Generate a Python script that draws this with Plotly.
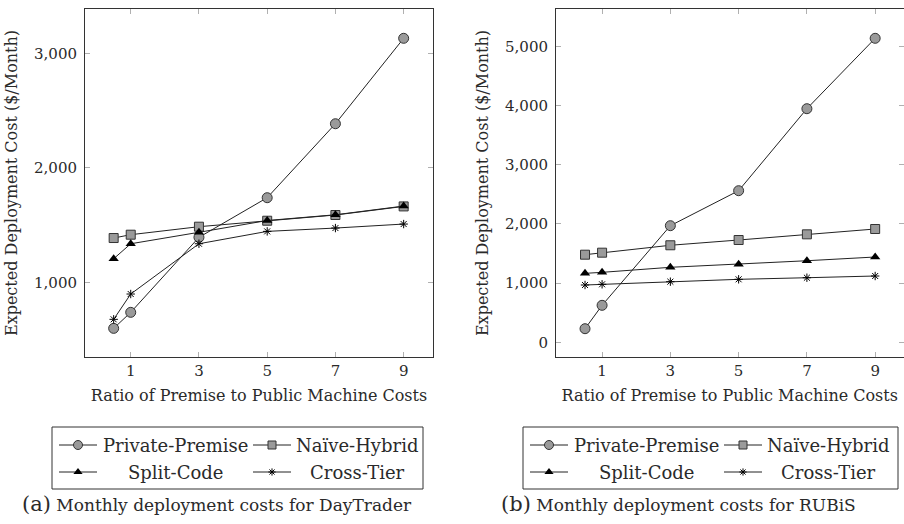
import plotly.graph_objects as go

ratios = [0.5, 1, 3, 5, 7, 9]

# (a) DayTrader
dt_private = [598, 738, 1393, 1739, 2385, 3131]
dt_naive = [1387, 1416, 1486, 1538, 1588, 1663]
dt_split = [1206, 1337, 1437, 1540, 1590, 1666]
dt_cross = [677, 898, 1337, 1445, 1474, 1509]

# (b) RUBiS
rb_private = [230, 625, 1970, 2561, 3946, 5135]
rb_naive = [1480, 1514, 1639, 1728, 1824, 1914]
rb_split = [1165, 1182, 1267, 1318, 1378, 1441]
rb_cross = [968, 980, 1024, 1064, 1091, 1120]

series_names = ["Private-Premise", "Naïve-Hybrid", "Split-Code", "Cross-Tier"]
x_ticks = [1, 3, 5, 7, 9]
dt_yticks = [1000, 2000, 3000]
rb_yticks = [0, 1000, 2000, 3000, 4000, 5000]
caption_tags = ["(a)", "(b)"]
caption_texts = ["Monthly deployment costs for DayTrader",
                 "Monthly deployment costs for RUBiS"]
x_title = "Ratio of Premise to Public Machine Costs"
y_title = "Expected Deployment Cost ($/Month)"

W, H = 904, 524
FONT = "DejaVu Serif"
TXT = "#2a2a2a"
GRAY = "#9a9a9a"
styles = [
    dict(symbol="circle", size=10, color=GRAY, line=dict(color="#333333", width=1)),
    dict(symbol="square", size=9, color=GRAY, line=dict(color="#333333", width=1)),
    dict(symbol="triangle-up", size=9, color="black", line=dict(color="black", width=0)),
    dict(symbol="asterisk-open", size=7, color="black", line=dict(color="black", width=1)),
]
LINE = dict(color="#222222", width=1)

fig = go.Figure()


def add_series(data, xa, ya):
    for name, vals, st in zip(series_names, data, styles):
        fig.add_trace(go.Scatter(
            x=ratios, y=vals, name=name, mode="lines+markers",
            xaxis=xa, yaxis=ya, showlegend=False,
            line=LINE, marker=st,
        ))


add_series([dt_private, dt_naive, dt_split, dt_cross], "x", "y")
add_series([rb_private, rb_naive, rb_split, rb_cross], "x2", "y2")

# ---- hand-made legends (pixel overlay axis) ----
shapes = []
annotations = []
legend_boxes = [(52, 423), (523, 898)]
box_top, box_bot = 427, 489
row_y = [445, 472]
# offsets from box left: (sample centre, text centre) per column
col_off = [(26, 123), (220, 305)]
for (bx0, bx1) in legend_boxes:
    shapes.append(dict(type="rect", xref="paper", yref="paper",
                       x0=bx0 / W, x1=bx1 / W, y0=1 - box_bot / H, y1=1 - box_top / H,
                       line=dict(color="#333333", width=1), fillcolor="rgba(0,0,0,0)"))
    for i, (name, st) in enumerate(zip(series_names, styles)):
        r, c = divmod(i, 2)
        sc, tc = col_off[c]
        cx = bx0 + sc
        cy = row_y[r]
        fig.add_trace(go.Scatter(x=[cx - 19, cx + 19], y=[cy, cy], mode="lines",
                                 line=LINE, xaxis="x3", yaxis="y3",
                                 showlegend=False, hoverinfo="skip"))
        fig.add_trace(go.Scatter(x=[cx], y=[cy], mode="markers",
                                 marker=dict(st, size=st["size"] - 1),
                                 xaxis="x3", yaxis="y3",
                                 showlegend=False, hoverinfo="skip"))
        annotations.append(dict(text=name, x=(bx0 + tc) / W, y=1 - cy / H,
                                xref="paper", yref="paper", showarrow=False,
                                xanchor="center", yanchor="middle",
                                font=dict(family=FONT, size=18, color=TXT)))

for tag, txt, cx in zip(caption_tags, caption_texts, [217, 678]):
    annotations.append(dict(text=f"<span style='font-size:21px'>{tag}</span> {txt}",
                            x=cx / W, y=1 - 504 / H, xref="paper", yref="paper",
                            showarrow=False, xanchor="center", yanchor="middle",
                            font=dict(family=FONT, size=17, color=TXT)))

axis_common = dict(
    showline=True, linecolor="#333333", linewidth=1, mirror="allticks",
    ticks="inside", ticklen=5, tickcolor="#b0b0b0", tickwidth=1,
    showgrid=False, zeroline=False,
    tickfont=dict(family=FONT, size=15, color=TXT),
)
ytop = 1 - 9 / H
ybot = 1 - 357 / H
title_font = dict(family=FONT, size=16, color=TXT)

fig.update_layout(
    width=W, height=H,
    margin=dict(l=0, r=0, t=0, b=0),
    paper_bgcolor="white", plot_bgcolor="rgba(0,0,0,0)",
    font=dict(family=FONT, color=TXT),
    showlegend=False,
    xaxis=dict(domain=[85 / W, 433 / W], range=[-0.34, 9.86], tickvals=x_ticks,
               title=dict(text=x_title, font=title_font, standoff=10),
               anchor="y", **axis_common),
    yaxis=dict(domain=[ybot, ytop], range=[348, 3387], tickvals=dt_yticks, tickformat=",d",
               title=dict(text=y_title, font=title_font, standoff=12),
               anchor="x", ticklabelstandoff=4, **axis_common),
    xaxis2=dict(domain=[556 / W, 903.5 / W], range=[-0.35, 9.83], tickvals=x_ticks,
                title=dict(text=x_title, font=title_font, standoff=10),
                anchor="y2", **axis_common),
    yaxis2=dict(domain=[ybot, ytop], range=[-248, 5630], tickvals=rb_yticks, tickformat=",d",
                title=dict(text=y_title, font=title_font, standoff=12),
                anchor="x2", ticklabelstandoff=4, **axis_common),
    xaxis3=dict(domain=[0, 1], range=[0, W], visible=False, fixedrange=True, anchor="y3"),
    yaxis3=dict(domain=[0, 1], range=[H, 0], visible=False, fixedrange=True, anchor="x3"),
    shapes=shapes,
    annotations=annotations,
)

fig.write_html("out.html", config={"displayModeBar": False},
               post_script="document.body.style.margin='0px';document.body.style.overflow='hidden';")
